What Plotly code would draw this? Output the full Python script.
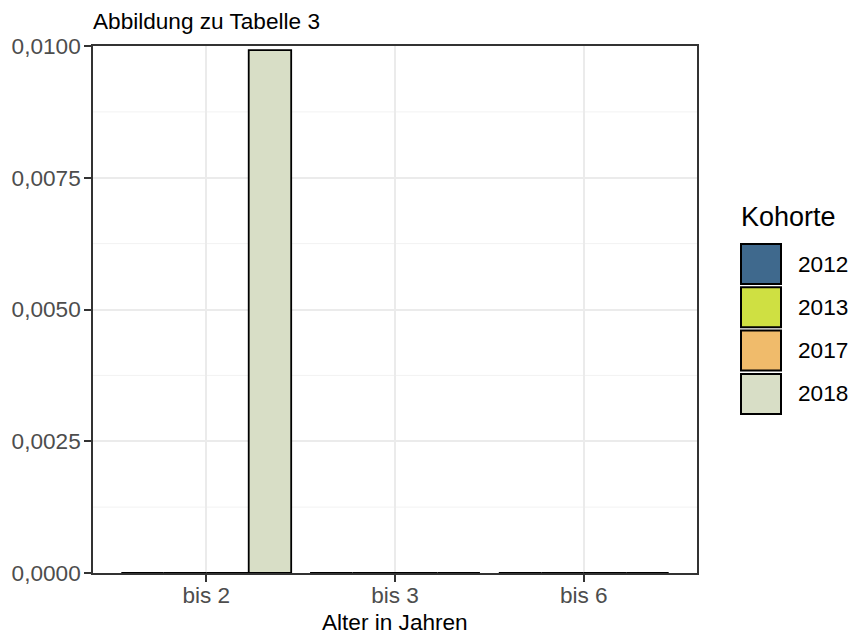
import plotly.graph_objects as go

# ---- data ----
categories = ["bis 2", "bis 3", "bis 6"]
cohorts = ["2012", "2013", "2017", "2018"]
values_2012 = [0.0, 0.0, 0.0]
values_2013 = [0.0, 0.0, 0.0]
values_2017 = [0.0, 0.0, 0.0]
values_2018 = [0.00992, 0.0, 0.0]
colors = ["#3F698D", "#CFE042", "#F0BB6B", "#D8DEC6"]
y_tickvals = [0.0, 0.0025, 0.005, 0.0075, 0.01]
y_ticktext = ["0,0000", "0,0025", "0,0050", "0,0075", "0,0100"]
y_minor = [0.00125, 0.00375, 0.00625, 0.00875]

series = [values_2012, values_2013, values_2017, values_2018]

W, H = 851, 635
L, R, T, B = 93, 697, 46, 573  # panel pixel bounds
pw, ph = R - L, B - T

def px_x(x):
    return (x - L) / pw

def px_y(y):
    return (B - y) / ph

FONT = "Liberation Sans, Arial, Helvetica, sans-serif"
FS = 22.6

fig = go.Figure()
for name, vals, col in zip(cohorts, series, colors):
    fig.add_trace(go.Bar(
        x=categories, y=vals, name=name,
        marker=dict(color=col, line=dict(color="black", width=1.8)),
        showlegend=False, hoverinfo="skip",
    ))

# minor horizontal gridlines
for v in y_minor:
    fig.add_shape(type="line", xref="paper", yref="y", x0=0, x1=1, y0=v, y1=v,
                  line=dict(color="#F2F2F2", width=1), layer="below")

fig.update_layout(
    width=W, height=H,
    margin=dict(l=L, r=W - R, t=T, b=H - B, pad=0),
    paper_bgcolor="white", plot_bgcolor="white",
    barmode="group", bargap=0.1, bargroupgap=0.0,
    font=dict(family=FONT, color="#4D4D4D", size=FS),
)
fig.update_xaxes(
    range=[-0.6, 2.6], showgrid=True, gridcolor="#EBEBEB", gridwidth=1.5,
    showline=True, linecolor="#333333", linewidth=1.5, mirror=True,
    ticks="outside", ticklen=7, tickwidth=1.5, tickcolor="#333333",
    ticklabelstandoff=-6,
    tickfont=dict(size=FS, color="#4D4D4D", family=FONT), zeroline=False,
)
fig.update_yaxes(
    range=[0, 0.01], tickvals=y_tickvals, ticktext=y_ticktext,
    showgrid=True, gridcolor="#EBEBEB", gridwidth=1.5,
    showline=True, linecolor="#333333", linewidth=1.5, mirror=True,
    ticks="outside", ticklen=7, tickwidth=1.5, tickcolor="#333333",
    ticklabelstandoff=-1,
    tickfont=dict(size=FS, color="#4D4D4D", family=FONT), zeroline=False,
)

# titles
fig.add_annotation(text="Abbildung zu Tabelle 3", xref="paper", yref="paper",
                   x=px_x(91), y=px_y(21), xanchor="left", yanchor="middle",
                   showarrow=False, font=dict(size=FS, color="black", family=FONT))
fig.add_annotation(text="Alter in Jahren", xref="paper", yref="paper",
                   x=px_x((L + R) / 2), y=px_y(622), xanchor="center", yanchor="middle",
                   showarrow=False, font=dict(size=FS, color="black", family=FONT))

# legend (drawn manually to match large keys)
fig.add_annotation(text="Kohorte", xref="paper", yref="paper",
                   x=px_x(739), y=px_y(217), xanchor="left", yanchor="middle",
                   showarrow=False, font=dict(size=27, color="black", family=FONT))
key_top0, key_step, key_size = 244, 43.3, 40
for i, (name, col) in enumerate(zip(cohorts, colors)):
    top = key_top0 + key_step * i
    fig.add_shape(type="rect", xref="paper", yref="paper",
                  x0=px_x(741), x1=px_x(781), y0=px_y(top + key_size), y1=px_y(top),
                  fillcolor=col, line=dict(color="black", width=2))
    fig.add_annotation(text=name, xref="paper", yref="paper",
                       x=px_x(796), y=px_y(top + key_size / 2), xanchor="left",
                       yanchor="middle", showarrow=False,
                       font=dict(size=FS, color="black", family=FONT))

fig.write_html("out.html", config={"displayModeBar": False},
               post_script="document.body.style.margin='0';")
